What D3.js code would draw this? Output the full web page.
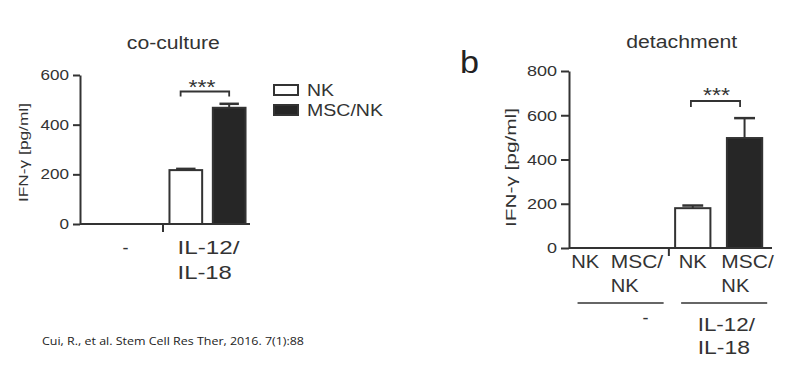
<!DOCTYPE html>
<html><head><meta charset="utf-8">
<script src="https://cdn.jsdelivr.net/npm/d3@7"></script>
<style>
html,body{margin:0;padding:0;background:#fff;}
svg{display:block;font-family:"Liberation Sans",Arial,sans-serif;}
</style></head>
<body><svg id="c" width="804" height="374"></svg>
<script>
// ---------- data ----------
const leftTitle = "co-culture";
const rightTitle = "detachment";
const yLabel = "IFN-\u03b3 [pg/ml]";
const series = ["NK", "MSC/NK"];
const leftGroups = ["-", "IL-12/IL-18"];
const leftGroupLines = [["-"], ["IL-12/", "IL-18"]];
const leftValues = [[0, 0], [217, 468]];
const leftErrors = [[0, 0], [5, 16]];
const leftTicks = [0, 200, 400, 600];

const rightCategories = ["NK", "MSC/NK", "NK", "MSC/NK"];
const rightCategoryLines = [["NK"], ["MSC/", "NK"], ["NK"], ["MSC/", "NK"]];
const rightCategoryGroup = [0, 0, 1, 1];
const rightGroupLines = [["-"], ["IL-12/", "IL-18"]];
const rightValues = [0, 0, 180, 497];
const rightErrors = [0, 0, 12, 90];
const rightTicks = [0, 200, 400, 600, 800];
const significance = "***";
const citation = "Cui, R., et al. Stem Cell Res Ther, 2016. 7(1):88";
const panelLetter = "b";

// ---------- style ----------
const INK = "#333";
const FILL = {"NK": "#fff", "MSC/NK": "#262626"};
const svg = d3.select("#c");

function txt(g, x, y, s, o) {
  const t = g.append("text").attr("x", x).attr("y", y).text(s)
    .attr("font-size", o.size).attr("fill", o.color || INK)
    .attr("text-anchor", o.anchor || "start");
  if (o.len) t.attr("textLength", o.len).attr("lengthAdjust", "spacingAndGlyphs");
  if (o.family) t.attr("font-family", o.family);
  if (o.rotate) t.attr("transform", `rotate(-90,${x},${y})`);
  return t;
}
function yAxis(g, y, ticks, x0, size, sx, tickLen) {
  const ax = g.append("g").attr("transform", `translate(${x0},0)`)
    .call(d3.axisLeft(y).tickValues(ticks).tickSize(tickLen).tickSizeOuter(0).tickPadding(4));
  ax.select(".domain").attr("stroke", INK).attr("stroke-width", 2);
  ax.selectAll(".tick line").attr("stroke", INK).attr("stroke-width", 2);
  ax.selectAll(".tick text").attr("font-size", size).attr("fill", INK)
    .attr("font-family", '"Liberation Sans",Arial,sans-serif')
    .each(function() {
      const t = d3.select(this); const xx = +t.attr("x");
      t.attr("x", 0).attr("transform", `translate(${xx},0) scale(${sx},1)`);
    });
}
function bar(g, x, w, y, v, e, s) {
  const y0 = y(0);
  g.append("rect").attr("x", x + 1).attr("width", w - 2)
    .attr("y", y(v)).attr("height", Math.max(0, y0 - y(v)))
    .attr("fill", FILL[s]).attr("stroke", INK).attr("stroke-width", 2);
  if (e > 0) {
    const cx = x + w / 2, cw = w * 0.56;
    g.append("line").attr("x1", cx).attr("x2", cx).attr("y1", y(v)).attr("y2", y(v + e))
      .attr("stroke", INK).attr("stroke-width", 2);
    g.append("line").attr("x1", cx - cw / 2).attr("x2", cx + cw / 2).attr("y1", y(v + e)).attr("y2", y(v + e))
      .attr("stroke", INK).attr("stroke-width", 2.5);
  }
}
function bracket(g, x1, x2, yTop, drop) {
  g.append("path").attr("d", `M${x1},${yTop + drop}V${yTop}H${x2}V${yTop + drop}`)
    .attr("fill", "none").attr("stroke", INK).attr("stroke-width", 1.8);
}

// ---------- left panel ----------
{
  const g = svg.append("g");
  const y = d3.scaleLinear().domain([0, 600]).range([224, 75]);
  const xg = d3.scaleBand().domain(leftGroups).range([80, 250]);
  const xs = d3.scaleBand().domain(series).range([0, xg.bandwidth()]).paddingInner(0.2).paddingOuter(0.08);
  leftGroups.forEach((gr, i) => series.forEach((s, j) => {
    bar(g, xg(gr) + xs(s), xs.bandwidth(), y, leftValues[i][j], leftErrors[i][j], s);
  }));
  yAxis(g, y, leftTicks, 80, 14, 1.22, 7);
  g.append("line").attr("x1", 80).attr("x2", 250).attr("y1", y(0)).attr("y2", y(0)).attr("stroke", INK).attr("stroke-width", 2);
  const bnd = xg(leftGroups[1]) - 2;
  g.append("line").attr("x1", bnd).attr("x2", bnd).attr("y1", y(0)).attr("y2", y(0) + 8).attr("stroke", INK).attr("stroke-width", 2);
  txt(g, xg(leftGroups[0]) + xg.bandwidth() / 2 + 3, 253.5, leftGroupLines[0][0], {size: 18, anchor: "middle", len: 6});
  const lens = [62, 54.4];
  const left = xg(leftGroups[1]) + xg.bandwidth() / 2 - 30;
  leftGroupLines[1].forEach((l, k) => txt(g, left, 253.5 + k * 25, l, {size: 18.5, len: lens[k]}));
  txt(g, 173.3, 49, leftTitle, {size: 17.5, anchor: "middle", len: 93});
  txt(g, 28, 152.5, yLabel, {size: 13, anchor: "middle", len: 99, rotate: true});
  const b1 = xg(leftGroups[1]) + xs(series[0]) + xs.bandwidth() * 0.35;
  const b2 = xg(leftGroups[1]) + xs(series[1]) + xs.bandwidth() * 0.5;
  bracket(g, b1, b2, 91.5, 5);
  txt(g, (b1 + b2) / 2 - 3, 93.5, significance, {size: 20, anchor: "middle", len: 27});
  series.forEach((s, i) => {
    g.append("rect").attr("x", 274).attr("y", 85 + i * 20).attr("width", 24).attr("height", 10)
      .attr("fill", FILL[s]).attr("stroke", INK).attr("stroke-width", 2);
    txt(g, 307, 96 + i * 20, s, {size: 16, len: i === 0 ? 27 : 76});
  });
}

// ---------- right panel ----------
{
  const g = svg.append("g");
  const y = d3.scaleLinear().domain([0, 800]).range([248, 71]);
  const x = d3.scaleBand().domain(d3.range(rightCategories.length)).range([569, 772])
    .paddingInner(0.28).paddingOuter(0.1).align(0.15);
  const bw = x.bandwidth();
  rightCategories.forEach((s, i) => bar(g, x(i), bw, y, rightValues[i], rightErrors[i], s));
  yAxis(g, y, rightTicks, 569, 15, 1.2, 8);
  g.append("line").attr("x1", 569).attr("x2", 772).attr("y1", y(0)).attr("y2", y(0)).attr("stroke", INK).attr("stroke-width", 2);
  const bnd = (x(1) + bw + x(2)) / 2 + 2;
  g.append("line").attr("x1", bnd).attr("x2", bnd).attr("y1", y(0)).attr("y2", y(0) + 8).attr("stroke", INK).attr("stroke-width", 2);
  const wNK = 28, wMSC = 52.4;
  rightCategoryLines.forEach((lines, i) => {
    const bwid = lines.length > 1 ? wMSC : wNK;
    const lx = x(i) + bw / 2 - bwid / 2 + (i === 3 ? 3 : i === 2 ? 0 : -4);
    lines.forEach((l, k) => txt(g, lx, 268.3 + k * 23.4, l, {size: 17.5, len: l === "MSC/" ? wMSC : wNK}));
  });
  [0, 1].forEach(gi => {
    const idx = rightCategoryGroup.map((d, i) => d === gi ? i : -1).filter(i => i >= 0);
    const x1 = x(idx[0]) + 7, x2 = x(idx[idx.length - 1]) + bw + 4;
    g.append("line").attr("x1", x1).attr("x2", x2).attr("y1", 303).attr("y2", 303).attr("stroke", INK).attr("stroke-width", 1.6);
  });
  txt(g, 645.5, 324, rightGroupLines[0][0], {size: 18, anchor: "middle", len: 6});
  const glen = [57.3, 52.3];
  rightGroupLines[1].forEach((l, k) => txt(g, 697.7, 331 + k * 22.5, l, {size: 18.5, len: glen[k]}));
  txt(g, 681.7, 48.3, rightTitle, {size: 17.5, anchor: "middle", len: 111});
  txt(g, 460, 73.3, panelLetter, {size: 31, len: 19, color: "#222"});
  txt(g, 516, 167.5, yLabel, {size: 14, anchor: "middle", len: 119, rotate: true});
  const b1 = x(2) + bw * 0.45, b2 = x(3) + bw * 0.38;
  bracket(g, b1, b2, 101, 6);
  txt(g, (b1 + b2) / 2 + 1, 102, significance, {size: 20, anchor: "middle", len: 27});
}

txt(svg, 42, 345, citation, {size: 11, len: 262, family: '"Open Sans","Liberation Sans",sans-serif', color: "#222"});
</script></body></html>
